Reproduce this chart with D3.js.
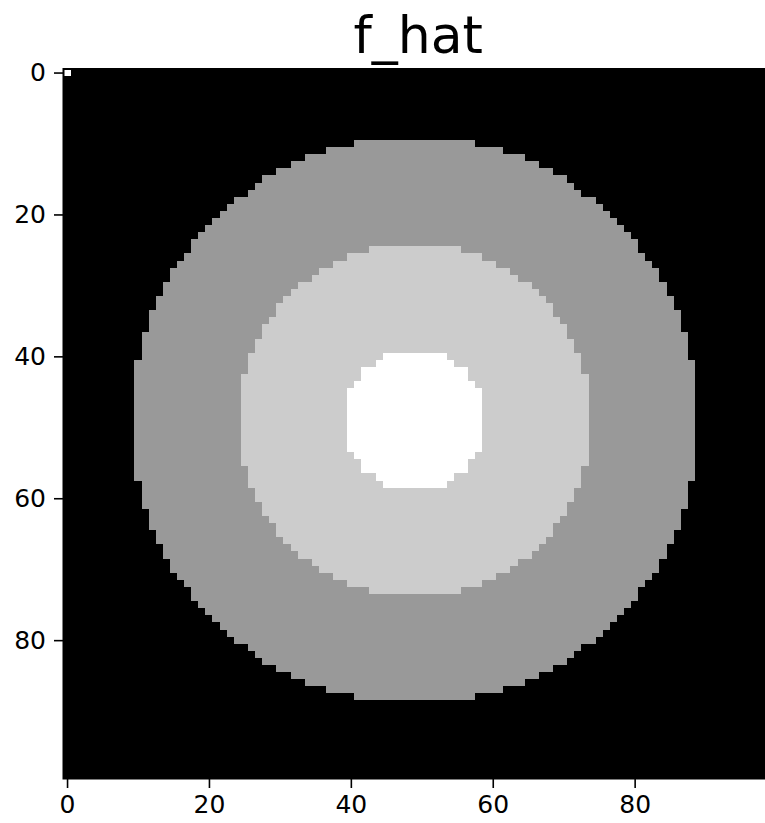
<!DOCTYPE html>
<html>
<head>
<meta charset="utf-8">
<script src="https://cdn.jsdelivr.net/npm/d3@7"></script>
<style>
  html, body { margin: 0; padding: 0; background: #ffffff; }
  svg { display: block; }
  text { font-family: "DejaVu Sans", sans-serif; fill: #000; }
</style>
</head>
<body>
<svg id="chart" width="765" height="823"></svg>
<script>
// Image grid: 100 x 100 cells, grey levels on a 0..1 scale (gray colormap)
const gridSize = 100;
const centerRow = 49;
const centerCol = 49;
// concentric bands, outermost first: a cell takes the level of the
// innermost band whose radius its distance from the centre falls below
const bandRadii = [40, 25, 10];
const bandLevels = [0.6, 0.8, 1.0];
const backgroundLevel = 0;
// isolated cells with their own value
const singleCells = [{ row: 0, col: 0, value: 1.0 }];
const xTicks = [0, 20, 40, 60, 80];
const yTicks = [0, 20, 40, 60, 80];
const title = "f_hat";

const plotLeft = 63.5, plotTop = 69, plotSide = 709.5;

const svg = d3.select("#chart");
const x = d3.scaleLinear().domain([-0.5, gridSize - 0.5]).range([plotLeft, plotLeft + plotSide]);
const y = d3.scaleLinear().domain([-0.5, gridSize - 0.5]).range([plotTop, plotTop + plotSide]);
const grey = d3.scaleLinear().domain([0, 1]).range(["#000000", "#ffffff"]);

// build the cell values
const cells = [];
for (let r = 0; r < gridSize; r++) {
  for (let c = 0; c < gridSize; c++) {
    const d = Math.hypot(r - centerRow, c - centerCol);
    let v = backgroundLevel;
    bandRadii.forEach((rad, i) => { if (d < rad) v = bandLevels[i]; });
    cells.push({ row: r, col: c, value: v });
  }
}
singleCells.forEach(s => { cells[s.row * gridSize + s.col].value = s.value; });

const plot = svg.append("g");
plot.selectAll("rect.cell")
  .data(cells)
  .join("rect")
  .attr("class", "cell")
  .attr("x", d => x(d.col - 0.5))
  .attr("y", d => y(d.row - 0.5))
  .attr("width", x(1) - x(0) + 0.02)
  .attr("height", y(1) - y(0) + 0.02)
  .attr("fill", d => grey(d.value))
  .attr("shape-rendering", "crispEdges");

// frame
svg.append("rect")
  .attr("x", plotLeft).attr("y", plotTop)
  .attr("width", plotSide).attr("height", plotSide)
  .attr("fill", "none").attr("stroke", "#000").attr("stroke-width", 2);

// axes
const xAxis = d3.axisBottom(x).tickValues(xTicks).tickSize(9.5).tickPadding(7).tickSizeOuter(0);
const yAxis = d3.axisLeft(y).tickValues(yTicks).tickSize(9.5).tickPadding(8).tickSizeOuter(0);

const gx = svg.append("g").attr("transform", `translate(0,${plotTop + plotSide})`).call(xAxis);
const gy = svg.append("g").attr("transform", `translate(${plotLeft},0)`).call(yAxis);
[gx, gy].forEach(g => {
  g.select(".domain").remove();
  g.selectAll(".tick line").attr("stroke", "#000").attr("stroke-width", 1.6);
  g.selectAll(".tick text").attr("font-size", 25).attr("font-family", "DejaVu Sans").attr("fill", "#000");
});

svg.append("text")
  .attr("x", plotLeft + plotSide / 2)
  .attr("y", 52.7)
  .attr("text-anchor", "middle")
  .attr("font-size", 52)
  .text(title);
</script>
</body>
</html>
